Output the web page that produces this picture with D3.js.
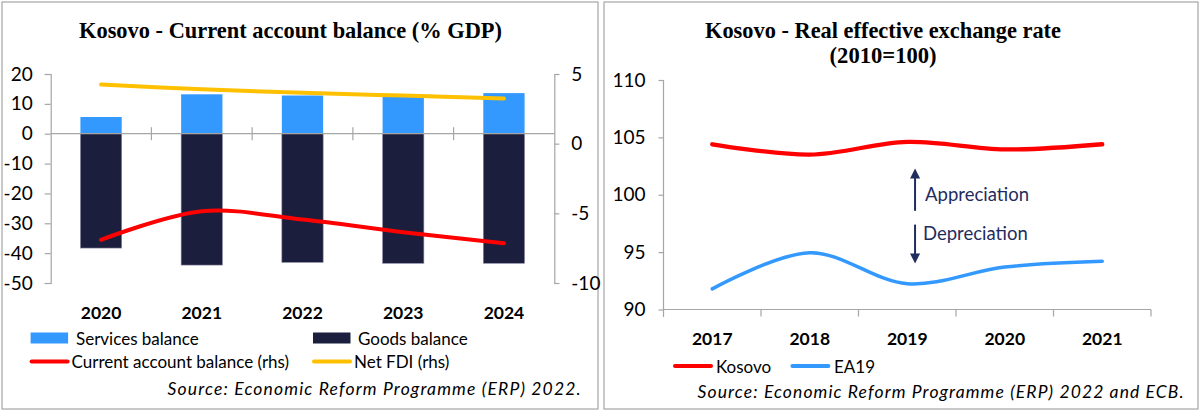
<!DOCTYPE html>
<html>
<head>
<meta charset="utf-8">
<script src="https://cdn.jsdelivr.net/npm/d3@7"></script>
<style>
  body { margin: 0; background: #fff; }
  text { font-family: Lato, "Open Sans", sans-serif; fill: #000; }
  .title { font-family: "Liberation Serif", "Times New Roman", serif; font-weight: bold; }
</style>
</head>
<body>
<div id="chart"></div>
<script>
// Left chart - current account (% GDP)
const years_ca = ['2020', '2021', '2022', '2023', '2024'];
const services_balance = [5.6, 13.2, 12.8, 12.8, 13.6];
const goods_balance = [-38.3, -44.0, -43.1, -43.4, -43.4];
const current_account = [-6.9, -4.85, -5.45, -6.35, -7.15];   // rhs
const net_fdi = [4.25, 3.9, 3.65, 3.45, 3.25];                 // rhs
const ticks_ca_left = [20, 10, 0, -10, -20, -30, -40, -50];
const ticks_ca_right = [5, 0, -5, -10];

// Right chart - REER (2010=100)
const years_reer = ['2017', '2018', '2019', '2020', '2021'];
const reer_kosovo = [104.4, 103.5, 104.6, 103.95, 104.4];
const reer_ea19 = [91.8, 94.95, 92.25, 93.7, 94.2];
const ticks_reer = [110, 105, 100, 95, 90];

const axisColor = '#a6a6a6';
const navy = '#1f2d5e';

let svg = d3.select('#chart')
  .append('svg')
    .attr('width', 1200)
    .attr('height', 412);

// panel frames
svg.append('rect')
  .attr('x', 2).attr('y', 2).attr('width', 596).attr('height', 407)
  .attr('fill', 'none').attr('stroke', axisColor).attr('stroke-width', 1.2);
svg.append('rect')
  .attr('x', 604).attr('y', 2).attr('width', 594).attr('height', 407)
  .attr('fill', 'none').attr('stroke', axisColor).attr('stroke-width', 1.2);

drawCurrentAccount();
drawReer();

function drawCurrentAccount() {
  const g = svg.append('g');

  g.append('text')
    .attr('class', 'title')
    .attr('x', 79).attr('y', 37.5)
    .attr('textLength', 423).attr('lengthAdjust', 'spacingAndGlyphs')
    .style('font-size', '23px')
    .text('Kosovo - Current  account  balance  (% GDP)');

  // Scales
  let x = d3.scaleBand().domain(years_ca).range([50.7, 554.3]);
  let y = d3.scaleLinear().domain([-50, 20]).range([283, 74]);
  let y2 = d3.scaleLinear().domain([-10, 5]).range([283, 74]);
  const barW = x.bandwidth() * 0.41;

  // Bars
  g.append('g')
    .selectAll('rect')
    .data(years_ca)
    .enter()
    .append('rect')
      .attr('x', d => x(d) + (x.bandwidth() - barW) / 2)
      .attr('y', (d, i) => y(goods_balance[i] < 0 ? 0 : goods_balance[i]))
      .attr('width', barW)
      .attr('height', (d, i) => Math.abs(y(goods_balance[i]) - y(0)))
      .attr('fill', '#1c1e3d')
      .attr('stroke', '#8d8aa6')
      .attr('stroke-width', 0.6);
  g.append('g')
    .selectAll('rect')
    .data(years_ca)
    .enter()
    .append('rect')
      .attr('x', d => x(d) + (x.bandwidth() - barW) / 2)
      .attr('y', (d, i) => y(services_balance[i]))
      .attr('width', barW)
      .attr('height', (d, i) => y(0) - y(services_balance[i]))
      .attr('fill', '#3399ff');

  // Left axis
  g.append('g')
    .attr('transform', 'translate(50.7,0)')
    .call(d3.axisLeft(y).tickValues(ticks_ca_left).tickFormat(d => String(d)).tickSize(6).tickPadding(12))
    .call(styleAxis)
    .selectAll('text').style('font-size', '19px');

  // Right axis
  g.append('g')
    .attr('transform', 'translate(554.3,0)')
    .call(d3.axisRight(y2).tickValues(ticks_ca_right).tickFormat(d => String(d)).tickSize(5).tickPadding(12))
    .call(styleAxis)
    .selectAll('text').style('font-size', '19px');

  // Zero line with crossing ticks
  g.append('line')
    .attr('x1', 50.7).attr('x2', 554.3)
    .attr('y1', y(0)).attr('y2', y(0))
    .attr('stroke', axisColor).attr('stroke-width', 1.2);
  g.append('g')
    .selectAll('line')
    .data(years_ca.slice(1))
    .enter()
    .append('line')
      .attr('x1', d => x(d)).attr('x2', d => x(d))
      .attr('y1', y(0) - 6.5).attr('y2', y(0) + 6.5)
      .attr('stroke', axisColor).attr('stroke-width', 1.2);

  // Category labels
  g.append('g')
    .selectAll('text')
    .data(years_ca)
    .enter()
    .append('text')
      .attr('x', d => x(d) + x.bandwidth() / 2)
      .attr('y', 312)
      .attr('text-anchor', 'middle')
      .attr('dominant-baseline', 'central')
      .style('font-size', '17.5px')
      .style('font-weight', 'bold')
      .text(d => d);

  // Lines (rhs)
  const line = d3.line()
    .x((d, i) => x(years_ca[i]) + x.bandwidth() / 2)
    .y(d => y2(d))
    .curve(d3.curveCatmullRom.alpha(0.5));
  g.append('path')
    .attr('d', line(net_fdi))
    .attr('fill', 'none').attr('stroke', '#ffc000').attr('stroke-width', 4)
    .attr('stroke-linecap', 'round');
  g.append('path')
    .attr('d', line(current_account))
    .attr('fill', 'none').attr('stroke', '#ff0000').attr('stroke-width', 4)
    .attr('stroke-linecap', 'round');

  // Legend
  const legend = [
    {name: 'Services balance', color: '#3399ff', type: 'box', x: 30.6, y: 338, tx: 76},
    {name: 'Goods balance', color: '#1c1e3d', type: 'box', x: 313, y: 338, tx: 358},
    {name: 'Current account balance (rhs)', color: '#ff0000', type: 'line', x: 30.6, y: 361.5, tx: 71.5},
    {name: 'Net FDI (rhs)', color: '#ffc000', type: 'line', x: 313, y: 361.5, tx: 354}
  ];
  drawLegend(g, legend);

  g.append('text')
    .attr('x', 167.6).attr('y', 388)
    .attr('dominant-baseline', 'central')
    .attr('textLength', 413).attr('lengthAdjust', 'spacing')
    .style('font-size', '17.5px').style('font-style', 'italic')
    .text('Source: Economic Reform Programme (ERP) 2022.');
}

function drawReer() {
  const g = svg.append('g');

  g.append('text')
    .attr('class', 'title')
    .attr('x', 705).attr('y', 37.5)
    .attr('textLength', 356).attr('lengthAdjust', 'spacingAndGlyphs')
    .style('font-size', '23px')
    .text('Kosovo - Real effective exchange rate');
  g.append('text')
    .attr('class', 'title')
    .attr('x', 829.6).attr('y', 62.5)
    .attr('textLength', 107).attr('lengthAdjust', 'spacingAndGlyphs')
    .style('font-size', '23px')
    .text('(2010=100)');

  // Scales
  let x = d3.scaleBand().domain(years_reer).range([663.5, 1151]);
  let y = d3.scaleLinear().domain([90, 110]).range([309.5, 80]);

  // Y axis
  g.append('g')
    .attr('transform', 'translate(663.5,0)')
    .call(d3.axisLeft(y).tickValues(ticks_reer).tickSize(5).tickPadding(13))
    .call(styleAxis)
    .call(a => a.select('.domain').attr('d', 'M0,80V317'))
    .selectAll('text').style('font-size', '19px');

  // X axis, ticks on category boundaries
  g.append('line')
    .attr('x1', 663.5).attr('x2', 1151)
    .attr('y1', y(90)).attr('y2', y(90))
    .attr('stroke', axisColor).attr('stroke-width', 1.2);
  g.append('g')
    .selectAll('line')
    .data(years_reer.slice(1).concat(['end']))
    .enter()
    .append('line')
      .attr('x1', d => d === 'end' ? 1151 : x(d))
      .attr('x2', d => d === 'end' ? 1151 : x(d))
      .attr('y1', y(90)).attr('y2', y(90) + 7)
      .attr('stroke', axisColor).attr('stroke-width', 1.2);

  g.append('g')
    .selectAll('text')
    .data(years_reer)
    .enter()
    .append('text')
      .attr('x', d => x(d) + x.bandwidth() / 2)
      .attr('y', 338)
      .attr('text-anchor', 'middle')
      .attr('dominant-baseline', 'central')
      .style('font-size', '17.5px')
      .style('font-weight', 'bold')
      .text(d => d);

  const line = d3.line()
    .x((d, i) => x(years_reer[i]) + x.bandwidth() / 2)
    .y(d => y(d))
    .curve(d3.curveCatmullRom.alpha(0.5));
  g.append('path')
    .attr('d', line(reer_kosovo))
    .attr('fill', 'none').attr('stroke', '#ff0000').attr('stroke-width', 4.3)
    .attr('stroke-linecap', 'round');
  g.append('path')
    .attr('d', line(reer_ea19))
    .attr('fill', 'none').attr('stroke', '#3399ff').attr('stroke-width', 3.5)
    .attr('stroke-linecap', 'round');

  // Appreciation / depreciation arrows
  const ax = x('2019') + x.bandwidth() * 0.58;
  const defs = svg.append('defs');
  defs.append('marker')
    .attr('id', 'arrow')
    .attr('viewBox', '0 0 10 10')
    .attr('refX', 2).attr('refY', 5)
    .attr('markerWidth', 5.5).attr('markerHeight', 5)
    .attr('orient', 'auto')
    .append('path').attr('d', 'M0,0L10,5L0,10z').attr('fill', navy);
  g.append('line')
    .attr('x1', ax).attr('x2', ax)
    .attr('y1', y(98.6)).attr('y2', y(101.6))
    .attr('stroke', navy).attr('stroke-width', 2)
    .attr('marker-end', 'url(#arrow)');
  g.append('line')
    .attr('x1', ax).attr('x2', ax)
    .attr('y1', y(97.4)).attr('y2', y(94.7))
    .attr('stroke', navy).attr('stroke-width', 2)
    .attr('marker-end', 'url(#arrow)');
  g.append('text')
    .attr('x', ax + 10).attr('y', y(100.1))
    .attr('dominant-baseline', 'central')
    .style('font-size', '18.5px').style('fill', navy)
    .text('Appreciation');
  g.append('text')
    .attr('x', ax + 8).attr('y', y(96.7))
    .attr('dominant-baseline', 'central')
    .style('font-size', '18.5px').style('fill', navy)
    .text('Depreciation');

  const legend = [
    {name: 'Kosovo', color: '#ff0000', type: 'line', x: 674, y: 366, tx: 716},
    {name: 'EA19', color: '#3399ff', type: 'line', x: 791.4, y: 366, tx: 834}
  ];
  drawLegend(g, legend);

  g.append('text')
    .attr('x', 697.6).attr('y', 391)
    .attr('dominant-baseline', 'central')
    .attr('textLength', 486).attr('lengthAdjust', 'spacing')
    .style('font-size', '17.5px').style('font-style', 'italic')
    .text('Source: Economic Reform Programme (ERP) 2022 and ECB.');
}

function drawLegend(g, items) {
  items.forEach(d => {
    if (d.type === 'box') {
      g.append('rect')
        .attr('x', d.x).attr('y', d.y - 5.5).attr('width', 37.5).attr('height', 11)
        .attr('fill', d.color);
    } else {
      g.append('line')
        .attr('x1', d.x + 1).attr('x2', d.x + 37)
        .attr('y1', d.y).attr('y2', d.y)
        .attr('stroke', d.color).attr('stroke-width', 4)
        .attr('stroke-linecap', 'round');
    }
    g.append('text')
      .attr('x', d.tx).attr('y', d.y)
      .attr('dominant-baseline', 'central')
      .style('font-size', '17px')
      .text(d.name);
  });
}

function styleAxis(a) {
  a.select('.domain').attr('stroke', axisColor).attr('stroke-width', 1.2);
  a.selectAll('.tick line').attr('stroke', axisColor).attr('stroke-width', 1.2);
  a.selectAll('.tick text').style('fill', '#000');
}
</script>
</body>
</html>
